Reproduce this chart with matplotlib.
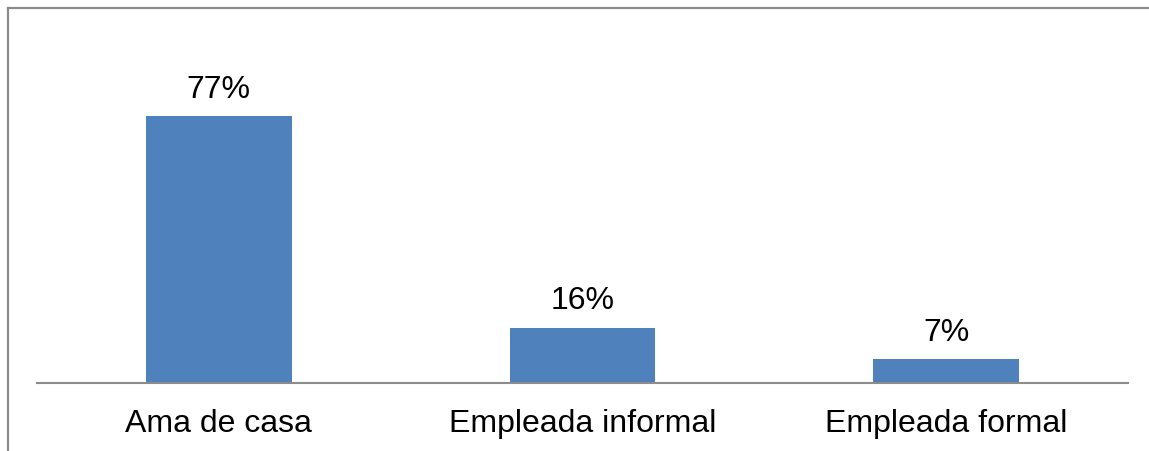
import matplotlib
matplotlib.use("Agg")
import matplotlib.pyplot as plt
from matplotlib.lines import Line2D

categories = ["Ama de casa", "Empleada informal", "Empleada formal"]
values = [77, 16, 7]
labels = ["77%", "16%", "7%"]

W, H = 1149, 451
fig = plt.figure(figsize=(W / 100, H / 100), dpi=100)
plt.rcParams['font.family'] = ['Liberation Sans', 'DejaVu Sans']

# axes placement in pixels
left, right, bottom, top = 37, 1128, 383, 20
ax = fig.add_axes([left / W, (H - bottom) / H, (right - left) / W, (bottom - top) / H])

ax.bar(range(len(categories)), values, width=0.4, color="#4F81BD")
ax.set_xlim(-0.5, len(categories) - 0.5)
ppp = (383 - 116) / 77.0
ax.set_ylim(0, (bottom - top) / ppp)

for i, (v, lab) in enumerate(zip(values, labels)):
    ax.annotate(lab, (i, v), xytext=(0, 8), textcoords="offset points",
                ha="center", va="bottom", fontsize=23, color="black")

ax.set_xticks(range(len(categories)))
ax.set_xticklabels(categories, fontsize=23)
ax.tick_params(axis="x", length=0, pad=19)
ax.set_yticks([])
for s in ["left", "right", "top"]:
    ax.spines[s].set_visible(False)
ax.spines["bottom"].set_color("#8C8C8C")
ax.spines["bottom"].set_linewidth(1.5)

# figure border (left and top)
x0 = 8 / W
y0 = 1 - 8 / H
fig.add_artist(Line2D([x0, x0], [0, y0], transform=fig.transFigure, color="#8C8C8C", lw=1.6))
fig.add_artist(Line2D([x0, 1], [y0, y0], transform=fig.transFigure, color="#8C8C8C", lw=1.6))

fig.savefig("out.png", dpi=100)
